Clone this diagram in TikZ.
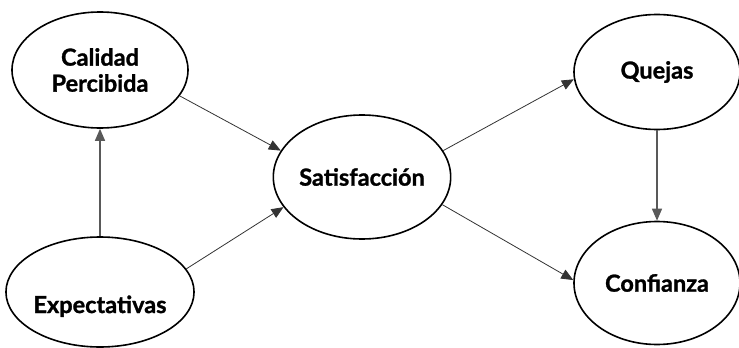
\documentclass[tikz,border=0pt]{standalone}
\usepackage{fontspec}
\setmainfont{Lato}[BoldFeatures={FakeBold=1.2}]
\usetikzlibrary{shapes.geometric,arrows.meta}
\begin{document}
\begin{tikzpicture}[x=1pt,y=-1pt,
  latent/.style={ellipse,draw=black,line width=1.6pt,inner sep=0pt,
    font=\fontsize{23.5}{26}\selectfont\bfseries,align=center},
  link/.style={draw=black!80,line width=0.8pt,-{Triangle[length=12pt,width=10pt]}},
  vlink/.style={draw=black!65,line width=1.3pt,-{Triangle[length=12pt,width=10pt]}}]
\useasboundingbox (0,0) rectangle (739,348);
\node[latent,minimum width=176pt,minimum height=116pt] (cal) at (100,70) {Calidad\\Percibida};
\node[latent,minimum width=176pt,minimum height=110pt,text height=42pt,text depth=0pt] (exp) at (100,292) {Expectativas};
\node[latent,minimum width=175pt,minimum height=124pt] (sat) at (362,177) {Satisfacción};
\node[latent,minimum width=166pt,minimum height=115pt] (que) at (657,72) {Quejas};
\node[latent,minimum width=166pt,minimum height=123pt] (con) at (657,283) {Confianza};
\draw[vlink] (exp.north) -- (cal.south);
\draw[vlink] (que.south) -- (con.north);
\draw[link] (cal.-18) -- (sat.162);
\draw[link] (exp.15) -- (sat.-159);
\draw[link] (sat.18) -- (que.-175);
\draw[link] (sat.-19) -- (con.178);
\end{tikzpicture}
\end{document}
